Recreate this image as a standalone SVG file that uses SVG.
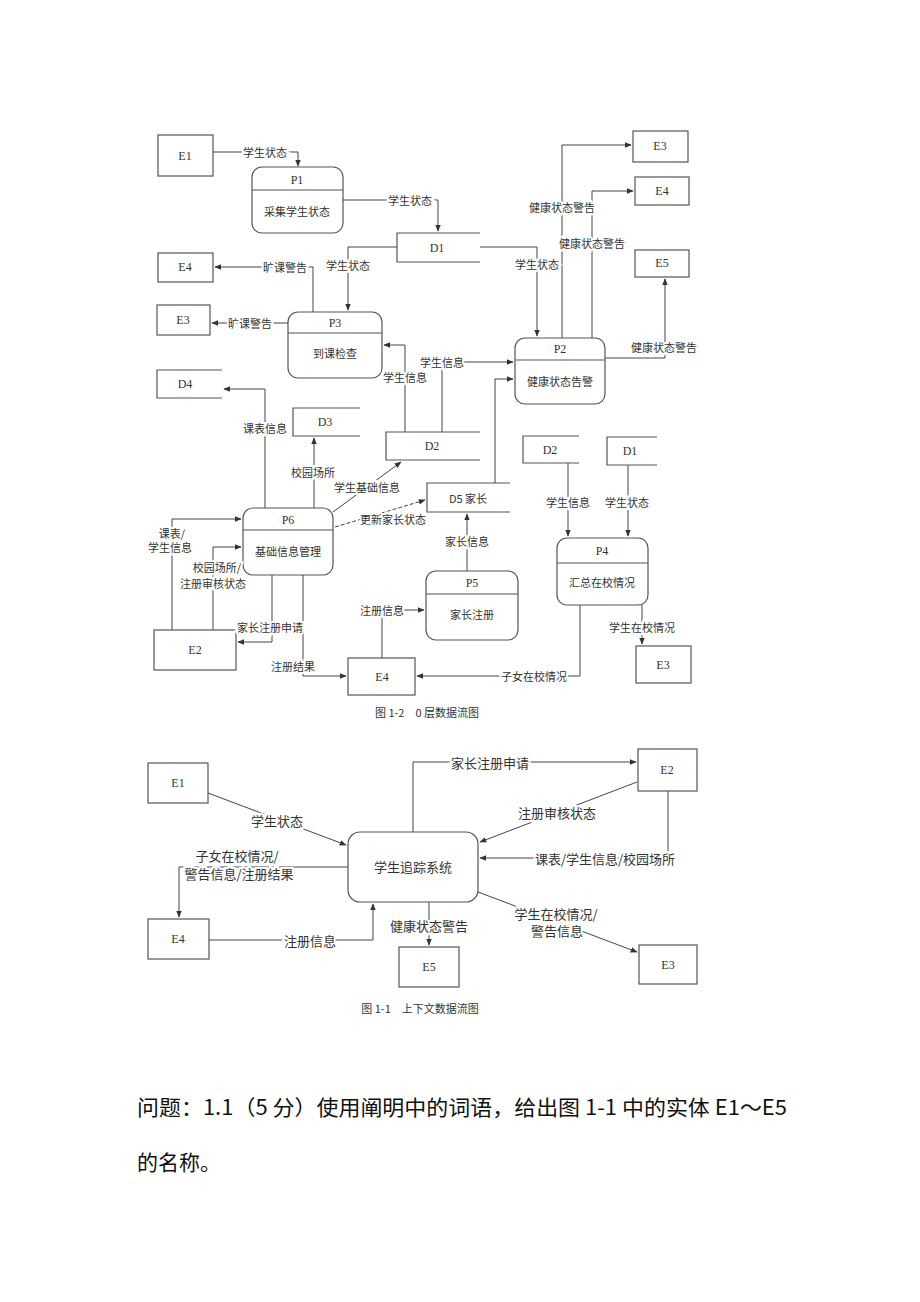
<svg xmlns="http://www.w3.org/2000/svg" width="920" height="1302" viewBox="0 0 920 1302">
<style>
.bg{fill:#fff}
.box{fill:#fff;stroke:#555;stroke-width:1.2}
.ds{fill:none;stroke:#555;stroke-width:1.2}
.ln{fill:none;stroke:#444;stroke-width:1;marker-end:url(#ah)}
.dash{stroke-dasharray:4 2}
.id{font-family:"Liberation Serif",serif;font-size:12px;fill:#333;text-anchor:middle;dominant-baseline:central}
.pt{font-family:"Noto Sans CJK SC",sans-serif;font-size:11px;fill:#333;text-anchor:middle;dominant-baseline:central}
.lb{font-family:"Noto Sans CJK SC",sans-serif;font-size:11px;fill:#333;text-anchor:middle;dominant-baseline:central;stroke:#fff;stroke-width:4;paint-order:stroke}
.lb2{font-family:"Noto Sans CJK SC",sans-serif;font-size:13px;fill:#333;text-anchor:middle;dominant-baseline:central;stroke:#fff;stroke-width:4;paint-order:stroke}
.sys{font-family:"Noto Sans CJK SC",sans-serif;font-size:13px;fill:#333;text-anchor:middle;dominant-baseline:central}
.cap{font-family:"Noto Sans CJK SC",sans-serif;font-size:11px;fill:#333;text-anchor:middle;dominant-baseline:central}
.q{font-family:"Noto Sans CJK SC",sans-serif;font-size:21px;fill:#111}
</style>
<defs>
<marker id="ah" viewBox="0 0 10 10" refX="9" refY="5" markerWidth="7" markerHeight="7" orient="auto" markerUnits="userSpaceOnUse">
<path d="M0,1 L10,5 L0,9 z" fill="#333"/>
</marker>
</defs>
<rect class="bg" x="0" y="0" width="920" height="1302"/>

<!-- ===== Figure 1-2 nodes ===== -->
<g id="t-E1"><rect class="box" x="158" y="135" width="55" height="41"/><text class="id" x="185" y="156">E1</text></g>
<g id="t-P1"><rect class="box" x="252" y="167" width="91" height="66" rx="10"/><line class="ds" x1="252" y1="190" x2="343" y2="190"/><text class="id" x="297" y="180">P1</text><text class="pt" x="297" y="211">采集学生状态</text></g>
<g id="t-D1"><path class="ds" d="M480,233 H397 V262 H480"/><text class="id" x="437" y="248">D1</text></g>
<g id="t-E3a"><rect class="box" x="633" y="131" width="55" height="31"/><text class="id" x="660" y="146">E3</text></g>
<g id="t-E4a"><rect class="box" x="635" y="177" width="54" height="28"/><text class="id" x="662" y="191">E4</text></g>
<g id="t-E5a"><rect class="box" x="635" y="250" width="54" height="27"/><text class="id" x="662" y="263">E5</text></g>
<g id="t-P2"><rect class="box" x="515" y="338" width="90" height="66" rx="10"/><line class="ds" x1="515" y1="360" x2="605" y2="360"/><text class="id" x="560" y="349">P2</text><text class="pt" x="560" y="381">健康状态告警</text></g>
<g id="t-E4b"><rect class="box" x="158" y="253" width="55" height="29"/><text class="id" x="185" y="267">E4</text></g>
<g id="t-E3b"><rect class="box" x="157" y="305" width="53" height="30"/><text class="id" x="183" y="320">E3</text></g>
<g id="t-P3"><rect class="box" x="288" y="312" width="94" height="66" rx="10"/><line class="ds" x1="288" y1="333" x2="382" y2="333"/><text class="id" x="335" y="323">P3</text><text class="pt" x="335" y="353">到课检查</text></g>
<g id="t-D4"><path class="ds" d="M222,370 H157 V398 H222"/><text class="id" x="185" y="384">D4</text></g>
<g id="t-D3"><path class="ds" d="M360,408 H293 V436 H360"/><text class="id" x="325" y="422">D3</text></g>
<g id="t-D2m"><path class="ds" d="M480,432 H386 V460 H480"/><text class="id" x="432" y="446">D2</text></g>
<g id="t-D5"><path class="ds" d="M510,483 H427 V512 H510"/><text class="pt" x="468" y="498">D5 家长</text></g>
<g id="t-P6"><rect class="box" x="243" y="508" width="90" height="67" rx="10"/><line class="ds" x1="243" y1="530" x2="333" y2="530"/><text class="id" x="288" y="520">P6</text><text class="pt" x="288" y="551">基础信息管理</text></g>
<g id="t-E2"><rect class="box" x="154" y="630" width="82" height="40"/><text class="id" x="195" y="650">E2</text></g>
<g id="t-E4c"><rect class="box" x="348" y="658" width="67" height="37"/><text class="id" x="382" y="677">E4</text></g>
<g id="t-P5"><rect class="box" x="426" y="571" width="92" height="69" rx="10"/><line class="ds" x1="426" y1="594" x2="518" y2="594"/><text class="id" x="472" y="583">P5</text><text class="pt" x="472" y="614">家长注册</text></g>
<g id="t-D2r"><path class="ds" d="M579,436 H523 V463 H579"/><text class="id" x="550" y="450">D2</text></g>
<g id="t-D1r"><path class="ds" d="M657,437 H607 V465 H657"/><text class="id" x="630" y="451">D1</text></g>
<g id="t-P4"><rect class="box" x="557" y="538" width="91" height="67" rx="10"/><line class="ds" x1="557" y1="563" x2="648" y2="563"/><text class="id" x="602" y="551">P4</text><text class="pt" x="602" y="582">汇总在校情况</text></g>
<g id="t-E3c"><rect class="box" x="636" y="646" width="55" height="37"/><text class="id" x="663" y="665">E3</text></g>

<!-- ===== Figure 1-2 connectors ===== -->
<g id="t-connectors">
<path class="ln" d="M213,152 H298 V166"/>
<path class="ln" d="M343,200 H438 V231"/>
<path class="ln" d="M480,247 H537 V336"/>
<path class="ln" d="M397,247 H348 V310"/>
<path class="ln" d="M562,338 V145 H631"/>
<path class="ln" d="M592,338 V191 H633"/>
<path class="ln" d="M605,358 H665 V279"/>
<path class="ln" d="M313,312 V267 H215"/>
<path class="ln" d="M288,323 H212"/>
<path class="ln" d="M405,432 V345 H384"/>
<path class="ln" d="M442,432 V362 H513"/>
<path class="ln" d="M495,483 V379 H513"/>
<path class="ln" d="M265,508 V389 H224"/>
<path class="ln" d="M314,508 V438"/>
<path class="ln" d="M333,512 L401,462"/>
<path class="ln dash" d="M335,527 L425,500"/>
<path class="ln" d="M172,630 V519 H241"/>
<path class="ln" d="M213,630 V547 H241"/>
<path class="ln" d="M272,575 V642 H238"/>
<path class="ln" d="M303,575 V676 H346"/>
<path class="ln" d="M382,658 V610 H424"/>
<path class="ln" d="M467,571 V514"/>
<path class="ln" d="M568,463 V536"/>
<path class="ln" d="M628,465 V536"/>
<path class="ln" d="M580,605 V676 H417"/>
<path class="ln" d="M642,605 V644"/>
<text class="lb" x="265" y="152">学生状态</text>
<text class="lb" x="410" y="200">学生状态</text>
<text class="lb" x="537" y="264">学生状态</text>
<text class="lb" x="348" y="265">学生状态</text>
<text class="lb" x="562" y="207">健康状态警告</text>
<text class="lb" x="592" y="243">健康状态警告</text>
<text class="lb" x="664" y="347">健康状态警告</text>
<text class="lb" x="285" y="267">旷课警告</text>
<text class="lb" x="250" y="323">旷课警告</text>
<text class="lb" x="405" y="377">学生信息</text>
<text class="lb" x="442" y="362">学生信息</text>
<text class="lb" x="265" y="428">课表信息</text>
<text class="lb" x="313" y="472">校园场所</text>
<text class="lb" x="367" y="487">学生基础信息</text>
<text class="lb" x="393" y="519">更新家长状态</text>
<text class="lb" x="172" y="533">课表/</text>
<text class="lb" x="170" y="547">学生信息</text>
<text class="lb" x="217" y="567">校园场所/</text>
<text class="lb" x="213" y="583">注册审核状态</text>
<text class="lb" x="270" y="627">家长注册申请</text>
<text class="lb" x="293" y="666">注册结果</text>
<text class="lb" x="382" y="610">注册信息</text>
<text class="lb" x="467" y="541">家长信息</text>
<text class="lb" x="568" y="502">学生信息</text>
<text class="lb" x="627" y="502">学生状态</text>
<text class="lb" x="534" y="676">子女在校情况</text>
<text class="lb" x="642" y="627">学生在校情况</text>
</g>
<text class="cap" x="427" y="712">图 1-2　0 层数据流图</text>

<!-- ===== Figure 1-1 nodes ===== -->
<g id="c-E1"><rect class="box" x="148" y="763" width="60" height="40"/><text class="id" x="178" y="783">E1</text></g>
<g id="c-SYS"><rect class="box" x="348" y="832" width="130" height="70" rx="12"/><text class="sys" x="413" y="866">学生追踪系统</text></g>
<g id="c-E2"><rect class="box" x="638" y="749" width="59" height="42"/><text class="id" x="667" y="770">E2</text></g>
<g id="c-E4"><rect class="box" x="148" y="919" width="61" height="40"/><text class="id" x="178" y="939">E4</text></g>
<g id="c-E5"><rect class="box" x="399" y="947" width="60" height="40"/><text class="id" x="429" y="967">E5</text></g>
<g id="c-E3"><rect class="box" x="639" y="945" width="58" height="39"/><text class="id" x="668" y="965">E3</text></g>

<!-- ===== Figure 1-1 connectors ===== -->
<g id="c-connectors">
<path class="ln" d="M208,793 L346,845"/>
<path class="ln" d="M413,832 V762 H636"/>
<path class="ln" d="M637,782 L480,842"/>
<path class="ln" d="M668,791 V858 H480"/>
<path class="ln" d="M348,867 H179 V917"/>
<path class="ln" d="M209,940 H373 V904"/>
<path class="ln" d="M429,902 V945"/>
<path class="ln" d="M478,892 L637,952"/>
<text class="lb2" x="277" y="820">学生状态</text>
<text class="lb2" x="490" y="762">家长注册申请</text>
<text class="lb2" x="557" y="812">注册审核状态</text>
<text class="lb2" x="605" y="858">课表/学生信息/校园场所</text>
<text class="lb2" x="237" y="855">子女在校情况/</text>
<text class="lb2" x="239" y="873">警告信息/注册结果</text>
<text class="lb2" x="310" y="940">注册信息</text>
<text class="lb2" x="429" y="925">健康状态警告</text>
<text class="lb2" x="556" y="913">学生在校情况/</text>
<text class="lb2" x="557" y="930">警告信息</text>
</g>
<text class="cap" x="420" y="1008">图 1-1　上下文数据流图</text>

<text class="q" x="137" y="1115" textLength="650" lengthAdjust="spacingAndGlyphs">问题：1.1（5 分）使用阐明中的词语，给出图 1-1 中的实体 E1～E5</text>
<text class="q" x="137" y="1170">的名称。</text>
</svg>
